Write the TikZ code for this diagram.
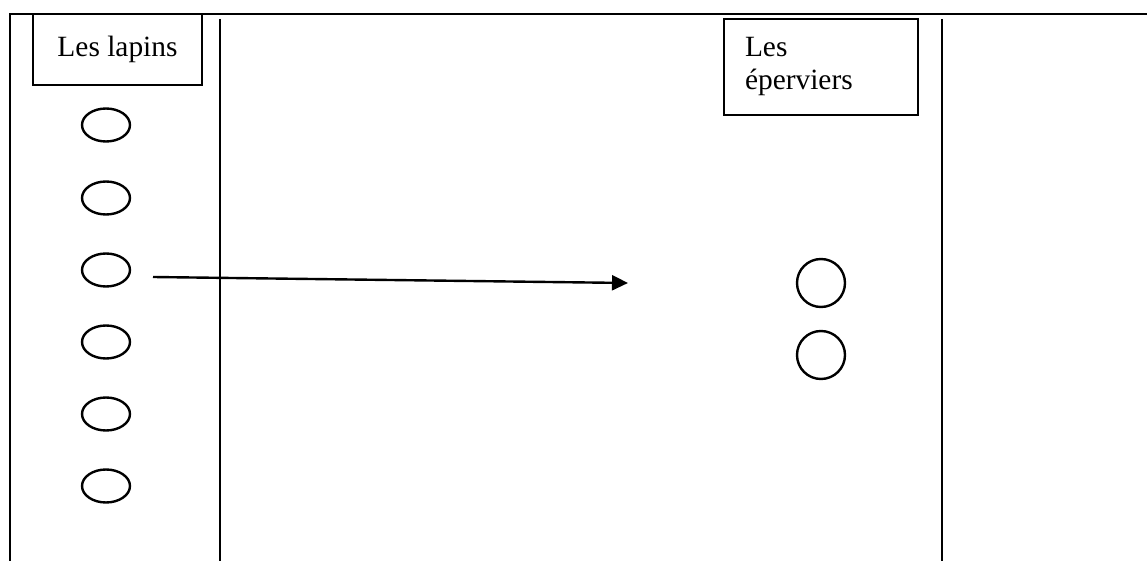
\documentclass[tikz,border=0pt]{standalone}
\usepackage{fontspec}
\setmainfont{Liberation Serif}
\usetikzlibrary{arrows.meta,shapes.geometric}
\tikzset{
  cadre/.style={draw,inner sep=0pt},
  lapin/.style={draw,ellipse,minimum width=24pt,minimum height=16.5pt,inner sep=0pt},
  epervier/.style={draw,circle,minimum size=24pt,inner sep=0pt}
}
\begin{document}
\begin{tikzpicture}[x=0.5pt,y=-0.5pt,line width=1.2pt,font=\fontsize{14.7}{16.5}\selectfont]
    \useasboundingbox (0,0) rectangle (1147,561);
    \draw (1147,14) -- (10,14) -- (10,561);
    \draw (220,19) -- (220,561);
    \draw (942,19) -- (942,561);
    \node[cadre,minimum width=84.5pt,minimum height=35.5pt] (lapins) at (117.5,49.5) {Les lapins};
    \node[cadre,minimum width=97pt,minimum height=48pt,text width=76pt,inner xsep=10.5pt,align=left] (eperviers) at (821,67) {Les\\éperviers};
    \foreach \y [count=\i] in {125,198,270,342,414,486} \node[lapin] (l\i) at (106,\y) {};
    \foreach \y [count=\i] in {283,355} \node[epervier] (e\i) at (821,\y) {};
    \coordinate (depart) at (153,277);
    \coordinate (arrivee) at (628,283);
    \draw[-{Triangle[length=8pt,width=7.5pt]}] (depart) -- (arrivee);
\end{tikzpicture}
\end{document}
